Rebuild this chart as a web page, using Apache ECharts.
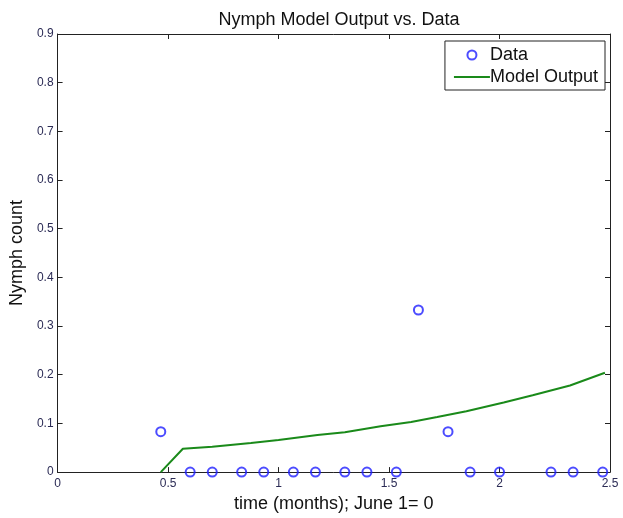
<!DOCTYPE html>
<html>
<head>
<meta charset="utf-8">
<script src="https://cdn.jsdelivr.net/npm/echarts@6/dist/echarts.min.js"></script>
<style>html,body{margin:0;padding:0;background:#fff}#c{width:623px;height:518px}</style>
</head>
<body>
<div id="c"></div>
<script>
var titleText = 'Nymph Model Output vs. Data';
var xName = 'time (months); June 1= 0';
var yName = 'Nymph count';
var dataX = [0.467, 0.600, 0.700, 0.833, 0.933, 1.067, 1.167, 1.300, 1.400, 1.533, 1.633, 1.767, 1.867, 2.000, 2.233, 2.333, 2.467];
var dataY = [0.083, 0, 0, 0, 0, 0, 0, 0, 0, 0, 0.333, 0.083, 0, 0, 0, 0, 0];
var modelX = [0.467, 0.567, 0.700, 0.875, 1.000, 1.176, 1.300, 1.462, 1.600, 1.718, 1.850, 2.019, 2.150, 2.319, 2.477];
var modelY = [0, 0.048, 0.052, 0.060, 0.066, 0.076, 0.082, 0.094, 0.103, 0.113, 0.125, 0.143, 0.158, 0.178, 0.204];

var chart = echarts.init(document.getElementById('c'), null, {renderer: 'canvas'});
var fontFam = '"Liberation Sans", Arial, sans-serif';
var lblColor = '#2b2b55';
var blue = '#1f1fff';
var green = '#1a8a1a';
function pairs(xs, ys) { return xs.map(function (x, i) { return [x, ys[i]]; }); }
var axisLine = {show: true, onZero: false, lineStyle: {color: '#222', width: 1}};
var tick = {show: true, inside: true, length: 5, lineStyle: {color: '#222'}};
chart.setOption({
  animation: false,
  backgroundColor: '#fff',
  title: {
    text: titleText, left: 334, top: 6, textAlign: 'center',
    textStyle: {fontFamily: fontFam, fontSize: 18, fontWeight: 'normal', color: '#111'}
  },
  grid: {left: 56, right: 13, top: 34, bottom: 45, containLabel: false},
  legend: {
    orient: 'vertical', right: 18, top: 41,
    backgroundColor: '#fff', borderColor: '#222', borderWidth: 1,
    padding: [5, 7, 4, 9], itemGap: 4, itemWidth: 36, itemHeight: 9,
    textStyle: {fontFamily: fontFam, fontSize: 18, lineHeight: 18, color: '#111', padding: [0, 0, 0, -5]},
    data: [
      {name: 'Data', icon: 'circle', itemStyle: {color: 'rgba(255,255,255,0)', borderColor: blue, borderWidth: 2}},
      {name: 'Model Output', icon: 'path://M0,4 L36,4 L36,6 L0,6 Z', itemStyle: {color: green, borderWidth: 0}}
    ]
  },
  xAxis: [{
    type: 'value', min: 0, max: 2.5, interval: 0.5, position: 'bottom',
    name: xName, nameLocation: 'middle', nameGap: 17,
    nameTextStyle: {fontFamily: fontFam, fontSize: 18, color: '#111'},
    axisLine: axisLine, axisTick: tick,
    axisLabel: {fontFamily: fontFam, fontSize: 12, color: lblColor, margin: 6},
    splitLine: {show: false}
  }, {
    type: 'value', min: 0, max: 2.5, interval: 0.5, position: 'top',
    axisLine: axisLine, axisTick: tick,
    axisLabel: {show: false}, splitLine: {show: false}
  }],
  yAxis: [{
    type: 'value', min: 0, max: 0.9, interval: 0.1, position: 'left',
    name: yName, nameLocation: 'middle', nameGap: 27, nameRotate: 90,
    nameTextStyle: {fontFamily: fontFam, fontSize: 18, color: '#111'},
    axisLine: axisLine, axisTick: tick,
    axisLabel: {fontFamily: fontFam, fontSize: 12, color: lblColor, margin: 4,
      formatter: function (v) { return String(Math.round(v * 10) / 10); }},
    splitLine: {show: false}
  }, {
    type: 'value', min: 0, max: 0.9, interval: 0.1, position: 'right',
    axisLine: axisLine, axisTick: tick,
    axisLabel: {show: false}, splitLine: {show: false}
  }],
  series: [{
    name: 'Data', type: 'scatter', xAxisIndex: 0, yAxisIndex: 0,
    symbol: 'circle', symbolSize: 9,
    itemStyle: {color: 'rgba(255,255,255,0)', borderColor: blue, borderWidth: 2},
    data: pairs(dataX, dataY), z: 5
  }, {
    name: 'Model Output', type: 'line', xAxisIndex: 0, yAxisIndex: 0,
    symbol: 'none', smooth: false,
    lineStyle: {color: green, width: 2}, itemStyle: {color: green},
    data: pairs(modelX, modelY), z: 4
  }]
});
</script>
</body>
</html>
